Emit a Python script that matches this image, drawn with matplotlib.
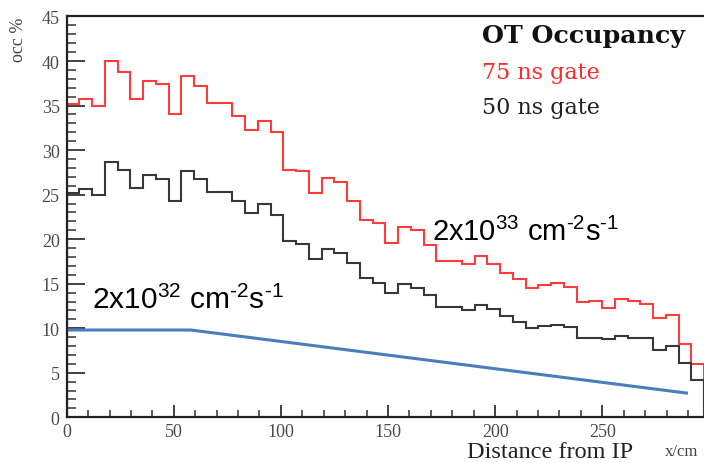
import numpy as np
import matplotlib
matplotlib.use("Agg")
import matplotlib.pyplot as plt
from matplotlib.ticker import MultipleLocator

# ---- data ----
bin_edges = np.linspace(0, 297.5, 51)
occ_75ns = [35.15, 35.7, 34.9, 40.0, 38.8, 35.7, 37.8, 37.4, 34.1, 38.3,
            37.2, 35.3, 35.3, 33.8, 32.3, 33.3, 32.0, 27.8, 27.7, 25.2,
            26.9, 26.4, 24.3, 22.2, 21.8, 19.6, 21.4, 21.0, 19.4, 17.5,
            17.6, 17.2, 18.1, 17.2, 16.2, 15.5, 14.5, 14.8, 15.1, 14.6,
            12.9, 13.1, 12.3, 13.25, 13.1, 12.7, 11.1, 11.45, 8.2, 6.0]
occ_50ns = [25.15, 25.6, 25.0, 28.7, 27.8, 25.7, 27.2, 26.8, 24.3, 27.7,
            26.7, 25.3, 25.3, 24.3, 22.95, 23.9, 22.7, 19.8, 19.5, 17.8,
            18.95, 18.5, 17.3, 15.6, 15.1, 14.0, 15.0, 14.5, 13.7, 12.4,
            12.4, 12.1, 12.6, 12.2, 11.4, 10.65, 10.0, 10.2, 10.35, 10.1,
            8.85, 8.95, 8.8, 9.15, 8.95, 8.85, 7.6, 7.95, 6.1, 4.2]
low_lumi_x = [0, 58, 290]
low_lumi_y = [9.8, 9.8, 2.7]

plt.rcParams['mathtext.fontset'] = 'custom'
plt.rcParams['mathtext.rm'] = 'Liberation Sans'
plt.rcParams['mathtext.it'] = 'Liberation Sans:italic'

fig = plt.figure(figsize=(7.04, 4.64), dpi=100)
ax = fig.add_axes([0.0947, 0.0985, 0.9053, 0.8638])

ax.stairs(occ_75ns, bin_edges, color='#ff3b3b', lw=1.5)
ax.stairs(occ_50ns, bin_edges, color='#383838', lw=1.5)
ax.plot(low_lumi_x, low_lumi_y, color='#4a7ebb', lw=2.2, solid_capstyle='butt')

ax.set_xlim(0, 297.5)
ax.set_ylim(0, 45)

for side in ['top', 'left', 'bottom']:
    ax.spines[side].set_linewidth(1.6)
    ax.spines[side].set_color('#222222')
ax.spines['right'].set_visible(False)

ax.xaxis.set_major_locator(MultipleLocator(50))
ax.xaxis.set_minor_locator(MultipleLocator(10))
ax.yaxis.set_major_locator(MultipleLocator(5))
ax.yaxis.set_minor_locator(MultipleLocator(1))
ax.tick_params(axis='y', which='major', direction='in', length=13, width=1.3,
               color='#333333', left=True, right=False, pad=5)
ax.tick_params(axis='y', which='minor', direction='in', length=6.5, width=1.1,
               color='#333333', left=True, right=False)
ax.tick_params(axis='x', which='major', direction='in', length=9, width=1.3,
               color='#333333', bottom=True, top=False, pad=4)
ax.tick_params(axis='x', which='minor', direction='in', length=5, width=1.1,
               color='#333333', bottom=True, top=False)
for lab in ax.get_xticklabels() + ax.get_yticklabels():
    lab.set_fontfamily('Liberation Serif')
    lab.set_fontsize(13)
    lab.set_color('#4a4a4a')

fig.text(0.026, 0.963, 'occ %', rotation=90, ha='center', va='top',
         fontfamily='Liberation Serif', fontsize=13, color='#444444')
fig.text(0.664, 0.025, 'Distance from IP', ha='left', va='center',
         fontfamily='Liberation Serif', fontsize=17.5, color='#222222')
fig.text(0.944, 0.025, 'x/cm', ha='left', va='center',
         fontfamily='Liberation Serif', fontsize=12, color='#444444')

fig.text(0.684, 0.923, 'OT Occupancy', ha='left', va='center',
         fontfamily='DejaVu Serif', fontweight='bold', fontsize=18.2, color='#111111')
fig.text(0.684, 0.843, '75 ns gate', ha='left', va='center',
         fontfamily='DejaVu Serif', fontsize=16, color='#ff2a2a')
fig.text(0.684, 0.767, '50 ns gate', ha='left', va='center',
         fontfamily='DejaVu Serif', fontsize=16, color='#222222')

fig.text(0.613, 0.500, '2x10$^{33}$ cm$^{\u20102}$s$^{\u20101}$', ha='left', va='center',
         fontfamily='Liberation Sans', fontsize=21, color='#000000')
fig.text(0.130, 0.352, '2x10$^{32}$ cm$^{\u20102}$s$^{\u20101}$', ha='left', va='center',
         fontfamily='Liberation Sans', fontsize=21.5, color='#000000')

fig.savefig('out.png', dpi=100)
